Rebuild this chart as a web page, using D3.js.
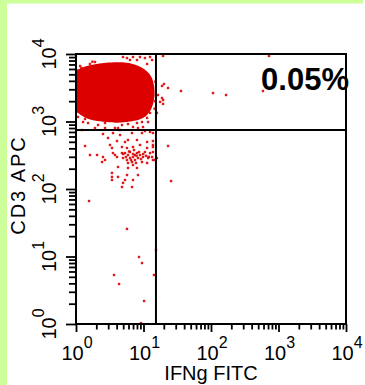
<!DOCTYPE html>
<html>
<head>
<meta charset="utf-8">
<script src="https://cdn.jsdelivr.net/npm/d3@7"></script>
<style>
  html, body { margin: 0; padding: 0; background: #ffffff; }
  svg { display: block; }
  text { font-family: "Liberation Sans", Arial, sans-serif; }
</style>
</head>
<body>
<svg id="plot" width="365" height="385"></svg>
<script>
// IFNg FITC vs CD3 APC dot plot, both axes log10, 10^0 .. 10^4

const decadeTicks = [1, 10, 100, 1000, 10000];
const decadeExponents = ["0", "1", "2", "3", "4"];
const xTitle = "IFNg FITC";
const yTitle = "CD3 APC";
const quadrantLabel = "0.05%";

// quadrant gate thresholds
const gateIFNg = 15.3;
const gateCD3 = 748;

// outline of the dense CD3+ IFNg- population (IFNg, CD3)
const coreIFNg = [1.0, 1.12, 1.4, 1.9, 2.6, 3.6, 4.9, 6.5, 8.3, 10.2, 12.2, 13.6, 14.4, 14.6, 14.0, 12.8, 10.9, 8.3, 5.7, 3.8, 2.5, 1.73, 1.31, 1.07, 1.0];
const coreCD3  = [5300, 6000, 6600, 7050, 7350, 7550, 7550, 7250, 6700, 6000, 5100, 4200, 3300, 2500, 1900, 1480, 1210, 1050, 983, 960, 990, 1050, 1170, 1340, 1480];

// individual events outside the dense core
const eventIFNg = [
  4.97, 5.69, 6.99, 8.01, 8.87, 10.5, 12.5, 13.4, 6.31, 11.3, 1.61, 1.15, 1.91,
  1.07, 1.36, 1.51, 1.27, 2.12, 2.69, 4.8, 5.89, 8.01, 9.5, 11.3, 12.5, 11.7, 9.83, 6.99, 4.19,
  17.6, 18.8, 19.5, 723, 18.8, 20.1, 23.1, 35.9, 107, 167, 589, 16.4, 19.5, 19.5, 15.8,
  15.8, 23.1, 25.6,
  1.23, 1.91, 2.69, 3.78, 4.49, 8.29, 10.5, 2.51, 3.53, 4.49, 6.75, 9.5, 12.5,
  2.98, 4.05, 5.32, 5.89, 8.01, 11.3, 13.8, 1.36, 3.41, 3.19, 4.8, 5.69, 6.99, 8.87, 11.3, 13.8,
  1.61, 2.05, 2.69, 2.51, 3.53, 4.05, 4.8,
  5.32, 5.89, 6.31, 6.99, 8.01, 8.87, 4.97, 5.69, 6.31, 7.48, 8.29, 6.75, 5.89, 9.5, 9.83,
  10.5, 11.7, 11.3, 12.5, 13.8, 7.48, 6.53, 7.74, 8.58, 5.5, 7.23, 9.18,
  6.99, 5.89, 8.01, 4.19, 8.29, 5.69, 4.19, 3.41, 3.41, 3.41, 5.32, 4.97, 6.99, 6.75, 4.8,
  2.43, 3.78, 14.8, 13.8, 13.8, 13.4, 13.8,
  1.56, 5.69, 15.3, 8.58, 9.5, 3.66, 14.3, 4.34, 10.2, 9.18,
  1.2, 1.75, 14.9, 15.0, 14.6, 7.0, 7.9, 6.1, 9.9, 10.9, 5.0, 12.0
];
const eventCD3 = [
  9030, 8720, 9030, 8150, 9030, 8720, 9030, 8150, 8150, 7110, 7110, 6640, 7610,
  1170, 1090, 950, 983, 888, 950, 888, 918, 950, 983, 1130, 1340, 983, 829, 829, 801,
  1950, 2230, 9340, 9340, 3360, 3590, 3140, 2830, 2640, 2470, 2830, 2470, 2080, 1820, 1340,
  288, 434, 131,
  748, 801, 801, 801, 748, 801, 723, 653, 675, 631, 675, 675, 699,
  570, 514, 497, 532, 532, 497, 514, 434, 405, 449, 419, 405, 419, 449, 405, 419,
  319, 319, 269, 298, 341, 298, 341,
  341, 319, 353, 298, 341, 319, 288, 269, 288, 269, 288, 251, 243, 251, 298,
  353, 288, 243, 341, 269, 319, 269, 243, 353, 298, 378, 278,
  227, 205, 205, 212, 161, 161, 151, 173, 151, 136, 136, 123, 136, 107, 107,
  251, 319, 269, 449, 353, 298, 675,
  66.4, 25.6, 12.5, 9.83, 8.01, 5.32, 5.32, 3.91, 2.19, 1.03,
  6200, 7700, 2000, 3900, 1550, 330, 310, 360, 330, 310, 330, 300
];

const svg = d3.select("#plot");
const W = 365, H = 385;
const boxL = 76, boxR = 346, boxT = 54, boxB = 324;
const red = "#dc0000";

// page frame: light green strips on the left and top
svg.append("rect").attr("x", 0).attr("y", 0).attr("width", W).attr("height", H).attr("fill", "#ffffff");
svg.append("rect").attr("x", 0).attr("y", 0).attr("width", 363).attr("height", 3.5).attr("fill", "#ccff99");
svg.append("rect").attr("x", 0).attr("y", 0).attr("width", 7).attr("height", H).attr("fill", "#ccff99");

const x = d3.scaleLog().domain([1, 1e4]).range([boxL, boxR]);
const y = d3.scaleLog().domain([1, 1e4]).range([boxB, boxT]);

const isDecade = v => decadeTicks.some(d => Math.abs(d - v) < 1e-9);

// clip events to the plotting box
svg.append("clipPath").attr("id", "box")
  .append("rect").attr("x", boxL).attr("y", boxT).attr("width", boxR - boxL).attr("height", boxB - boxT);

const dataLayer = svg.append("g").attr("clip-path", "url(#box)");

// dense population core
const core = coreIFNg.map((v, i) => [v, coreCD3[i]]);
dataLayer.append("path")
  .datum(core)
  .attr("d", d3.line().x(d => x(d[0])).y(d => y(d[1])).curve(d3.curveCardinalClosed.tension(0.3)))
  .attr("fill", red);

// single events
const events = eventIFNg.map((v, i) => [v, eventCD3[i]]);
dataLayer.selectAll("rect.ev")
  .data(events)
  .join("rect")
  .attr("class", "ev")
  .attr("x", d => x(d[0]) - 1.2)
  .attr("y", d => y(d[1]) - 1.2)
  .attr("width", 2.4)
  .attr("height", 2.4)
  .attr("fill", red)
  .attr("opacity", 0.9);

// axes: minor ticks at every log step, longer at decades
const xAxis = svg.append("g")
  .attr("transform", `translate(0,${boxB})`)
  .call(d3.axisBottom(x).tickValues(x.ticks()).tickSize(6).tickFormat(""));
xAxis.select(".domain").remove();
xAxis.selectAll(".tick line")
  .attr("stroke", "#000").attr("stroke-width", 1.8)
  .attr("y2", d => isDecade(d) ? 8 : 5.5);

const yAxis = svg.append("g")
  .attr("transform", `translate(${boxL},0)`)
  .call(d3.axisLeft(y).tickValues(y.ticks()).tickSize(7).tickFormat(""));
yAxis.select(".domain").remove();
yAxis.selectAll(".tick line")
  .attr("stroke", "#000").attr("stroke-width", 1.8)
  .attr("x2", d => isDecade(d) ? -10 : -7);

// x tick labels: 10 with superscript exponent
decadeTicks.forEach((v, i) => {
  const t = svg.append("text")
    .attr("x", x(v) + 1)
    .attr("y", 360)
    .attr("text-anchor", "middle")
    .attr("font-size", 20)
    .attr("fill", "#000");
  t.append("tspan").text("10");
  t.append("tspan").attr("dy", -12).attr("font-size", 16).text(decadeExponents[i]);
});

// y tick labels, rotated
decadeTicks.forEach((v, i) => {
  const t = svg.append("text")
    .attr("transform", `translate(56,${y(v)}) rotate(-90)`)
    .attr("text-anchor", "middle")
    .attr("font-size", 20)
    .attr("fill", "#000");
  t.append("tspan").text("10");
  t.append("tspan").attr("dy", -12).attr("font-size", 16).text(decadeExponents[i]);
});

// axis titles
svg.append("text")
  .attr("x", (boxL + boxR) / 2)
  .attr("y", 380)
  .attr("text-anchor", "middle")
  .attr("font-size", 20)
  .attr("fill", "#000")
  .text(xTitle);

svg.append("text")
  .attr("transform", `translate(25,185) rotate(-90)`)
  .attr("text-anchor", "middle")
  .attr("font-size", 20)
  .attr("letter-spacing", 2)
  .attr("fill", "#000")
  .text(yTitle);

// quadrant gates
svg.append("line")
  .attr("x1", x(gateIFNg)).attr("x2", x(gateIFNg))
  .attr("y1", boxT).attr("y2", boxB)
  .attr("stroke", "#000").attr("stroke-width", 2);
svg.append("line")
  .attr("x1", boxL).attr("x2", boxR)
  .attr("y1", y(gateCD3)).attr("y2", y(gateCD3))
  .attr("stroke", "#000").attr("stroke-width", 2);

// plotting box
svg.append("rect")
  .attr("x", boxL).attr("y", boxT)
  .attr("width", boxR - boxL).attr("height", boxB - boxT)
  .attr("fill", "none").attr("stroke", "#000").attr("stroke-width", 2);

// upper-right quadrant frequency
svg.append("text")
  .attr("x", 349)
  .attr("y", 90)
  .attr("text-anchor", "end")
  .attr("font-size", 31)
  .attr("font-weight", "bold")
  .attr("fill", "#000")
  .text(quadrantLabel);
</script>
</body>
</html>
